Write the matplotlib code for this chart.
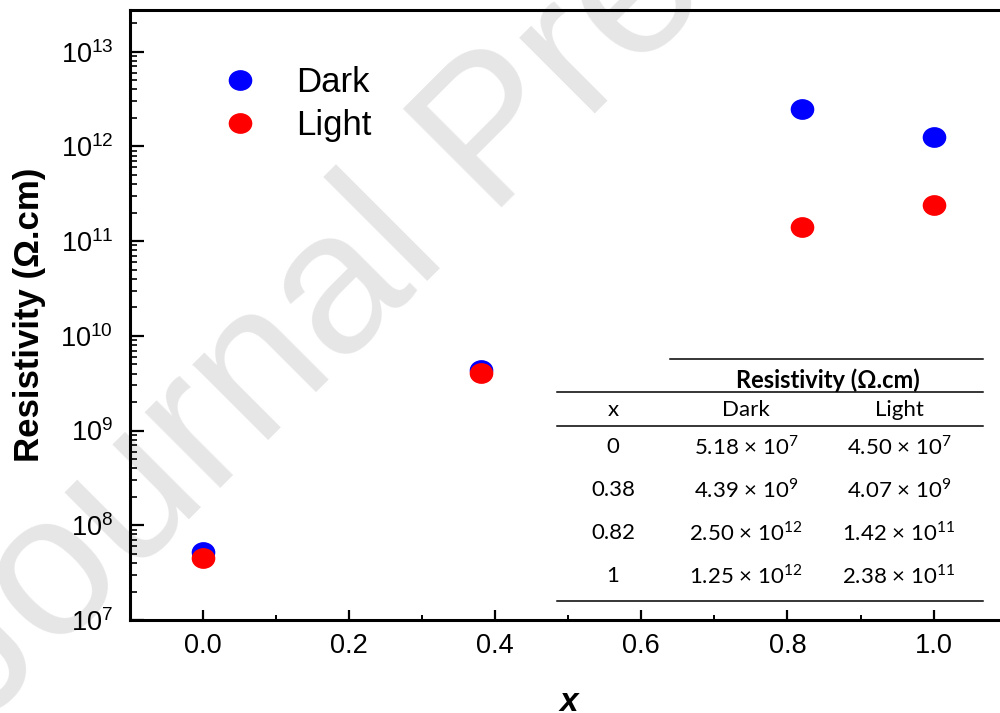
import numpy as np
import matplotlib
matplotlib.use("Agg")
import matplotlib.pyplot as plt
from matplotlib.path import Path
from matplotlib.markers import MarkerStyle
from matplotlib.transforms import Affine2D
from matplotlib.lines import Line2D
from matplotlib.ticker import LogLocator, MultipleLocator, NullFormatter

# data (resistivity in ohm.cm)
x_comp = [0.0, 0.38, 0.82, 1.0]
rho_dark = [5.18e7, 4.39e9, 2.50e12, 1.25e12]
rho_light = [4.50e7, 4.07e9, 1.42e11, 2.38e11]

# table contents
tab_x = ["0", "0.38", "0.82", "1"]
tab_dark = [(5.18, 7), (4.39, 9), (2.50, 12), (1.25, 12)]
tab_light = [(4.50, 7), (4.07, 9), (1.42, 11), (2.38, 11)]

plt.rcParams['font.family'] = ['Liberation Sans', 'DejaVu Sans']

W, H = 1000, 713
fig = plt.figure(figsize=(10, 7.13), dpi=100)

def fx(px):
    return px / W

def fy(py):
    return (H - py) / H

# watermark
fig.text(fx(-20), fy(728), "Journal Pre-proof", fontsize=146, color='#e6e6e6',
         rotation=45, rotation_mode='anchor', ha='left', va='baseline', zorder=-5)

ax = fig.add_axes([0.130, 0.1304, 0.8766, 0.8555])
ax.patch.set_alpha(0)

# slightly wide ellipse marker like the original
ell = Path.unit_circle().transformed(Affine2D().scale(1.15, 1.0))
mk = MarkerStyle(ell)

ax.plot(x_comp, rho_dark, linestyle='none', marker=mk, markersize=16,
        color='#0000ff', label='Dark', zorder=3)
ax.plot(x_comp, rho_light, linestyle='none', marker=mk, markersize=16,
        color='#ff0000', label='Light', zorder=4)

ax.set_yscale('log')
ax.set_xlim(-0.1, 1.1)
ax.set_ylim(1e7, 10 ** 13.44)

ax.xaxis.set_major_locator(MultipleLocator(0.2))
ax.xaxis.set_minor_locator(MultipleLocator(0.1))
ax.yaxis.set_major_locator(LogLocator(base=10, numticks=20))
ax.yaxis.set_minor_locator(LogLocator(base=10, subs=np.arange(2, 10), numticks=20))
ax.yaxis.set_minor_formatter(NullFormatter())
ax.xaxis.set_major_formatter(matplotlib.ticker.FormatStrFormatter('%.1f'))

for s in ['left', 'bottom', 'top']:
    ax.spines[s].set_linewidth(2.2)
ax.spines['right'].set_visible(False)

ax.tick_params(axis='x', which='major', direction='in', length=7, width=1.6,
               labelsize=19.5, pad=9, top=False)
ax.tick_params(axis='x', which='minor', direction='in', length=3.5, width=1.4, top=False)
ax.tick_params(axis='y', which='major', direction='in', length=10, width=1.6,
               labelsize=19.5, pad=12, right=False)
ax.tick_params(axis='y', which='minor', direction='in', length=5, width=1.2, right=False)

ax.set_ylabel("Resistivity (\u03a9.cm)", fontsize=25, fontweight='bold', va='center')
ax.yaxis.set_label_coords(-0.115, 0.5)
ax.set_xlabel("x", fontsize=24, fontweight='bold', fontstyle='italic', va='baseline')
ax.xaxis.set_label_coords(0.5, -0.149)

leg = ax.legend(loc='center left', bbox_to_anchor=(fx(223), fy(104)),
                bbox_transform=fig.transFigure, frameon=False, fontsize=25,
                handlelength=1.0, handletextpad=1.1, borderpad=0,
                borderaxespad=0, labelspacing=0.3, numpoints=1)

# inset table
tfont = ['Lato', 'DejaVu Sans']
tsize = 16
for (x0, x1, y) in [(670, 983, 359), (557, 983, 392), (557, 983, 426), (557, 983, 601)]:
    fig.add_artist(Line2D([fx(x0), fx(x1)], [fy(y), fy(y)], color='black', lw=1.1))

fig.text(fx(828), fy(380), "Resistivity (\u03a9.cm)", family=tfont, fontweight='bold',
         fontsize=17, ha='center', va='center')
col_x = [613, 746, 899]
for cx, txt in zip(col_x, ["x", "Dark", "Light"]):
    fig.text(fx(cx), fy(410), txt, family=tfont, fontsize=tsize, ha='center', va='center')

row_y = [447, 490, 533, 576]
for ry, xs, d, l in zip(row_y, tab_x, tab_dark, tab_light):
    fig.text(fx(col_x[0]), fy(ry), xs, family=tfont, fontsize=tsize, ha='center', va='center')
    fig.text(fx(col_x[1]), fy(ry), "%.2f \u00d7 10$^{\\mathdefault{%d}}$" % d,
             family=tfont, fontsize=tsize, ha='center', va='center')
    fig.text(fx(col_x[2]), fy(ry), "%.2f \u00d7 10$^{\\mathdefault{%d}}$" % l,
             family=tfont, fontsize=tsize, ha='center', va='center')

fig.savefig("out.png", dpi=100)
